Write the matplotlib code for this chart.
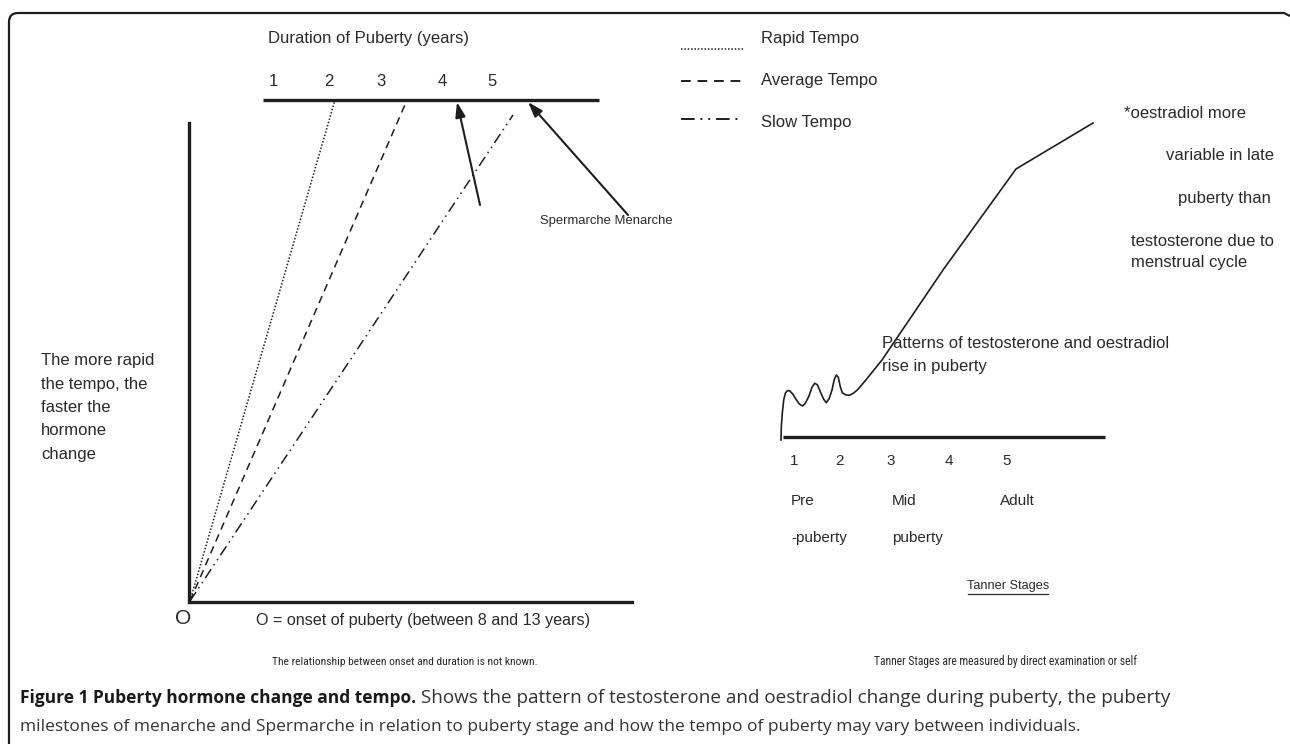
import numpy as np
import matplotlib.pyplot as plt
from matplotlib.path import Path
from matplotlib.patches import PathPatch
from matplotlib import font_manager

# --- diagram content (pixel space of a 1290x744 canvas, y downwards) ---
duration_ticks = ["1", "2", "3", "4", "5"]
duration_tick_x = [273, 329, 381, 442, 492]

tempo_names = ["Rapid Tempo", "Average Tempo", "Slow Tempo"]
tempo_styles = [(0, (1, 1.2)), (0, (5, 3.5)), (0, (7, 3, 1, 3, 1, 3))]
tempo_end_x = [335, 407, 513]
tempo_end_y = [100, 100, 115]
legend_y = [49, 81, 119]
legend_text_y = [39, 80, 122]

milestones = ["Spermarche", "Menarche"]
milestone_tip = [(457, 102), (528, 102)]
milestone_tail = [(480, 205), (628, 215)]

tanner_ticks = ["1", "2", "3", "4", "5"]
tanner_tick_x = [794, 839, 891, 949, 1007]
tanner_stage = ["Pre", "Mid", "Adult"]
tanner_stage_x = [791, 892, 1000]
tanner_stage2 = ["-puberty", "puberty"]

# hormone curve
hormone_x = [781, 781.3, 782.3, 783.7, 785.3, 787.3, 789.7, 792.7, 796, 799.3, 802.7,
             805.3, 808.7, 812, 814.7, 817.3, 820.3, 823.7, 826.3, 829.3, 832, 834.3,
             836.3, 838.3, 840.3, 842.3, 845.3, 849.3, 853.3, 857.3, 865.3, 882,
             943, 1016, 1093]
hormone_y = [440, 426.7, 413.3, 400, 393.3, 390.7, 390.7, 394, 399.3, 404, 406,
             403.3, 396.7, 387.3, 383.3, 384.7, 391.7, 399.3, 402.7, 398.3, 390, 379.3,
             375, 377.3, 386.7, 392.7, 394.7, 395.3, 393.3, 390, 380.7, 360,
             270, 169, 123]

left_note = ["The more rapid", "the tempo, the", "faster the", "hormone", "change"]
right_note = ["*oestradiol more", "variable in late", "puberty than",
              "testosterone due to", "menstrual cycle"]
right_note_x = [1124, 1166, 1178, 1131, 1131]
right_note_y = [114, 156, 199, 241, 263]

# condensed footnotes: (text, centre x, target width in px)
footnotes = [("The relationship between onset and duration is not known.", 405, 262),
             ("Tanner Stages are measured by direct examination or self", 1005, 262)]

ink = "#1e1e1e"
txt = "#2a2a2a"
font = "Liberation Sans"
installed = {f.name for f in font_manager.fontManager.ttflist}
narrow = font
for cand in ["Liberation Sans Narrow", "Roboto Condensed", "Open Sans Condensed",
             "DejaVu Sans Condensed"]:
    if cand in installed:
        narrow = cand
        break

fig = plt.figure(figsize=(12.9, 7.44), dpi=100)
ax = fig.add_axes([0, 0, 1, 1])
ax.set_xlim(0, 1290)
ax.set_ylim(744, 0)
ax.axis("off")

# outer frame, rounded top-left corner
frame = Path([(9, 744), (9, 22), (9, 13), (18, 13), (1284, 13), (1290, 16)],
             [Path.MOVETO, Path.LINETO, Path.CURVE3, Path.CURVE3, Path.LINETO, Path.LINETO])
ax.add_patch(PathPatch(frame, fill=False, lw=1.6, ec=ink))

# left panel
ax.plot([263, 599], [99.5, 99.5], color=ink, lw=2.4, solid_capstyle="butt")
ax.plot([189, 189, 632], [123, 602, 602], color=ink, lw=2.4, solid_joinstyle="miter")
ax.text(268, 39, "Duration of Puberty (years)", fontsize=12, family=font, color=txt, va="center")
for lab, x in zip(duration_ticks, duration_tick_x):
    ax.text(x, 82, lab, fontsize=12, family=font, color=txt, va="center", ha="center")

for i in range(3):
    ax.plot([190, tempo_end_x[i]], [601, tempo_end_y[i]], color=ink, lw=1.1,
            linestyle=tempo_styles[i])
    ax.plot([681, 743], [legend_y[i], legend_y[i]], color=ink, lw=1.1 if i == 0 else 1.4,
            linestyle=tempo_styles[i])
    ax.text(761, legend_text_y[i], tempo_names[i], fontsize=12, family=font, color=txt, va="center")

for tip, tail in zip(milestone_tip, milestone_tail):
    ax.annotate("", xy=tip, xytext=tail,
                arrowprops=dict(arrowstyle="-|>,head_length=0.9,head_width=0.3",
                                color=ink, lw=1.5, shrinkA=0, shrinkB=0))
ax.text(540, 221, " ".join(milestones), fontsize=9.4, family=font, color=txt, va="center")

for k, line in enumerate(left_note):
    ax.text(41, 361 + 23.3 * k, line, fontsize=12, family=font, color=txt, va="center")

ax.text(183, 618, "O", fontsize=15, family=font, color=txt, va="center", ha="center")
ax.text(256, 620, "O = onset of puberty (between 8 and 13 years)", fontsize=11.6, family=font,
        color=txt, va="center")

# right panel
ax.plot([783, 1105], [437, 437], color=ink, lw=2.4, solid_capstyle="butt")
ax.plot(hormone_x, hormone_y, color=ink, lw=1.2, solid_joinstyle="round")
for lab, x in zip(tanner_ticks, tanner_tick_x):
    ax.text(x, 461, lab, fontsize=11, family=font, color=txt, va="center", ha="center")
for lab, x in zip(tanner_stage, tanner_stage_x):
    ax.text(x, 501, lab, fontsize=11, family=font, color=txt, va="center")
for lab, x in zip(tanner_stage2, tanner_stage_x):
    ax.text(x, 538, lab, fontsize=11, family=font, color=txt, va="center")

ax.text(1008, 586, "Tanner Stages", fontsize=9.2, family=font, color=txt, va="center", ha="center")
ax.plot([968, 1048], [594, 594], color=txt, lw=0.9)

for s, x, y in zip(right_note, right_note_x, right_note_y):
    ax.text(x, y, s, fontsize=12, family=font, color=txt, va="center")
ax.text(882, 343, "Patterns of testosterone and oestradiol", fontsize=12, family=font,
        color=txt, va="center")
ax.text(882, 367, "rise in puberty", fontsize=12, family=font, color=txt, va="center")

# footnotes, sized to their width in the picture
fig.canvas.draw()
renderer = fig.canvas.get_renderer()
for s, xc, w in footnotes:
    t = ax.text(xc, 662, s, fontsize=10, family=narrow, color=txt, va="center", ha="center")
    cur = t.get_window_extent(renderer).width
    t.set_fontsize(min(10, 10 * w / cur))

# caption
cap_bold = "Figure 1 Puberty hormone change and tempo."
cap_1 = " Shows the pattern of testosterone and oestradiol change during puberty, the puberty"
cap_2 = "milestones of menarche and Spermarche in relation to puberty stage and how the tempo of puberty may vary between individuals."
t = ax.text(20, 698, cap_bold, fontsize=12.5, family="Open Sans", weight="bold",
            color="#1a1a1a", va="center")
bb = t.get_window_extent(renderer)
x_end = ax.transData.inverted().transform((bb.x1, bb.y0))[0]
ax.text(x_end, 698, cap_1, fontsize=13.6, family="Open Sans", color="#333333", va="center")
ax.text(20, 727, cap_2, fontsize=12.5, family="Open Sans", color="#333333", va="center")

fig.savefig("out.png", dpi=100, facecolor="white")
